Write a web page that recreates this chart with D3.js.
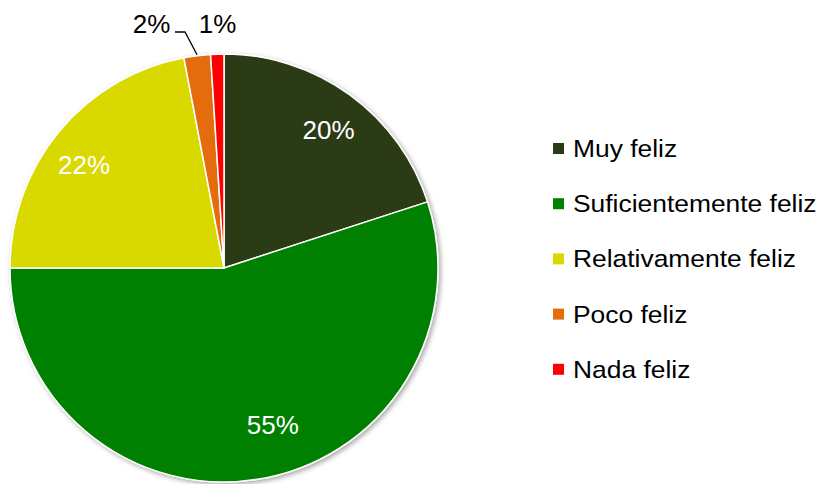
<!DOCTYPE html>
<html>
<head>
<meta charset="utf-8">
<script src="https://cdn.jsdelivr.net/npm/d3@7"></script>
<style>
  body { margin: 0; background: #fff; }
  text { font-family: "Liberation Sans", Arial, sans-serif; }
</style>
</head>
<body>
<svg width="819" height="484"></svg>
<script>
// datos del grafico
var categories = ["Muy feliz", "Suficientemente feliz", "Relativamente feliz", "Poco feliz", "Nada feliz"];
var values = [20, 55, 22, 2, 1];
var colors = ["#2b3a15", "#008000", "#d9d900", "#e46c0a", "#ff0000"];

var svg = d3.select("svg"),
    cx = 224, cy = 268, radius = 214;

// sombra suave debajo del pastel
var defs = svg.append("defs");
var f = defs.append("filter").attr("id", "sombra")
    .attr("x", "-10%").attr("y", "-10%").attr("width", "120%").attr("height", "120%");
f.append("feDropShadow")
    .attr("dx", 2).attr("dy", 2).attr("stdDeviation", 2.5)
    .attr("flood-color", "#000").attr("flood-opacity", 0.35);

var data = categories.map(function(c, i) { return {name: c, value: values[i], color: colors[i]}; });

var pie = d3.pie().sort(null).value(function(d) { return d.value; });
var arc = d3.arc().innerRadius(0).outerRadius(radius);
var arcs = pie(data);

var g = svg.append("g").attr("transform", "translate(" + cx + "," + cy + ")");

g.append("g").attr("filter", "url(#sombra)")
  .selectAll("path")
  .data(arcs)
  .enter().append("path")
    .attr("d", arc)
    .attr("fill", function(d) { return d.data.color; })
    .attr("stroke", "#fff")
    .attr("stroke-width", 1.5);

// etiquetas blancas dentro de las rebanadas grandes (con pequeño ajuste como en Excel)
var nudge = [[4, 0], [22, -13], [-8, 6]];
var labelArc = d3.arc().innerRadius(radius * 0.8).outerRadius(radius * 0.8);
g.selectAll(".lbl")
  .data(arcs.filter(function(d) { return d.data.value >= 5; }))
  .enter().append("text")
    .attr("class", "lbl")
    .attr("transform", function(d, i) {
      var p = labelArc.centroid(d);
      return "translate(" + (p[0] + nudge[i][0]) + "," + (p[1] + nudge[i][1] + 9.5) + ")";
    })
    .attr("text-anchor", "middle")
    .attr("font-size", 26)
    .attr("fill", "#fff")
    .text(function(d) { return d.data.value + "%"; });

// etiquetas fuera para las pequeñas
var small = arcs.filter(function(d) { return d.data.value < 5; });
var outPos = [[-72.5, -235], [-6.5, -235]];
g.selectAll(".out")
  .data(small)
  .enter().append("text")
    .attr("class", "out")
    .attr("x", function(d, i) { return outPos[i][0]; })
    .attr("y", function(d, i) { return outPos[i][1]; })
    .attr("text-anchor", "middle")
    .attr("font-size", 26)
    .attr("fill", "#000")
    .text(function(d) { return d.data.value + "%"; });

// linea guia del 2%
var a0 = (small[0].startAngle + small[0].endAngle) / 2;
var px = Math.sin(a0) * (radius + 1), py = -Math.cos(a0) * (radius + 1);
g.append("polyline")
  .attr("points", [[-49, -236], [-39, -236], [px, py]].map(function(p) { return p.join(","); }).join(" "))
  .attr("fill", "none")
  .attr("stroke", "#000")
  .attr("stroke-width", 1.3);

// leyenda
var legend = svg.append("g").attr("transform", "translate(553,157)");
var item = legend.selectAll("g")
  .data(data)
  .enter().append("g")
    .attr("transform", function(d, i) { return "translate(0," + (i * 55.2) + ")"; });
item.append("rect")
  .attr("x", 0).attr("y", -14).attr("width", 11).attr("height", 11)
  .attr("fill", function(d) { return d.color; });
item.append("text")
  .attr("transform", "translate(20,0) scale(1.1,1)")
  .attr("font-size", 24)
  .attr("fill", "#000")
  .text(function(d) { return d.name; });
</script>
</body>
</html>
